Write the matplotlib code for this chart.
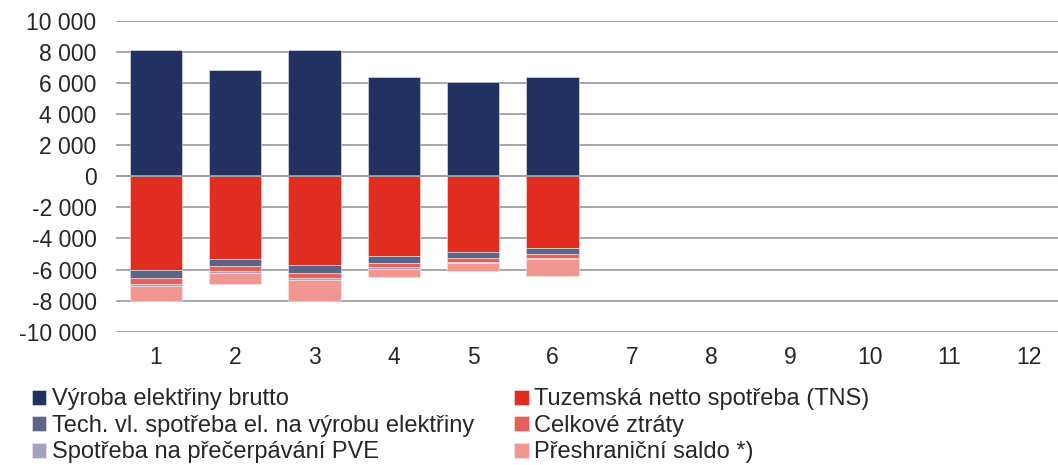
import matplotlib.pyplot as plt
import numpy as np

mesice = ['1', '2', '3', '4', '5', '6', '7', '8', '9', '10', '11', '12']
vyroba_brutto = [8110, 6880, 8110, 6430, 6050, 6430]
tns = [6000, 5300, 5680, 5100, 4840, 4590]
tech_vl = [540, 490, 560, 450, 430, 430]
ztraty = [360, 300, 320, 300, 240, 250]
pve = [150, 130, 110, 90, 80, 70]
saldo = [980, 710, 1370, 560, 500, 1090]

plt.rcParams['font.family'] = ['Liberation Sans', 'DejaVu Sans']

fig = plt.figure(figsize=(10.58, 4.65), dpi=100)
ax = fig.add_axes([0.1097, 0.2867, 0.9, 0.668])

x = np.arange(len(vyroba_brutto))
w = 0.66

h1 = ax.bar(x, vyroba_brutto, w, color='#233160', edgecolor='#e8e8ee', linewidth=0.4, zorder=3)
# zaporna cast - spotreba
bottom = np.zeros(len(x))
handles = []
for vals, col in [(tns, '#e02d20'), (tech_vl, '#5b6587'), (ztraty, '#e8605a'),
                  (pve, '#9fa3bf'), (saldo, '#f19690')]:
    v = -np.array(vals)
    h = ax.bar(x, v, w, bottom=bottom, color=col, edgecolor='#f6e6e6', linewidth=0.4, zorder=3)
    handles.append(h)
    bottom += v

ax.set_xlim(-0.5, 11.5)
ax.set_ylim(-10000, 10000)
ax.set_xticks(range(12))
ax.set_xticklabels(mesice)
yt = np.arange(-10000, 10001, 2000)
ax.set_yticks(yt)
ax.set_yticklabels(['{:,}'.format(v).replace(',', ' ') for v in yt])
ax.tick_params(axis='both', length=0, labelsize=16.5, colors='#262626')
ax.tick_params(axis='y', pad=14)
ax.tick_params(axis='x', pad=10)
ax.yaxis.grid(True, color='#a0a0a0', linewidth=1.3, zorder=0)
for s in ax.spines.values():
    s.set_visible(False)
ax.axhline(0, color='#a0a0a0', linewidth=1.3, zorder=4)

labels = ['Výroba elektřiny brutto', 'Tech. vl. spotřeba el. na výrobu elektřiny',
          'Spotřeba na přečerpávání PVE', 'Tuzemská netto spotřeba (TNS)',
          'Celkové ztráty', 'Přeshraniční saldo *)']
hs = [h1, handles[1], handles[3], handles[0], handles[2], handles[4]]
fig.legend(hs, labels, ncol=2, loc='upper left', bbox_to_anchor=(0.019, 0.19),
           frameon=False, fontsize=17, handlelength=0.6, handleheight=0.6,
           handletextpad=0.25, columnspacing=1.7, labelspacing=0.19,
           borderpad=0, labelcolor='#262626')

fig.savefig('out.png', dpi=100)
